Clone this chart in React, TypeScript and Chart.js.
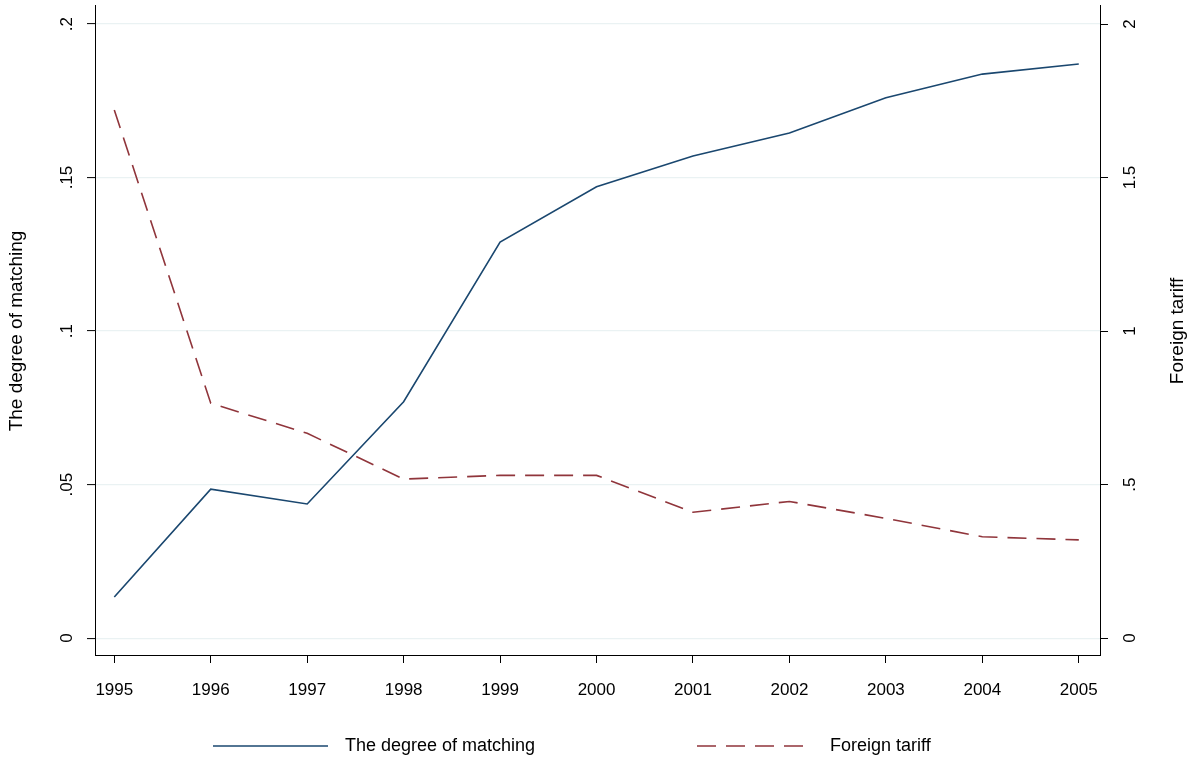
import React, { useEffect, useRef } from "react";
import { Chart, registerables } from "chart.js";

Chart.register(...registerables);

const years = [1995, 1996, 1997, 1998, 1999, 2000, 2001, 2002, 2003, 2004, 2005];
const matching = [0.0134, 0.0485, 0.0437, 0.077, 0.129, 0.147, 0.157, 0.1645, 0.176, 0.1837, 0.187];
const tariff = [1.72, 0.765, 0.667, 0.518, 0.53, 0.53, 0.41, 0.445, 0.39, 0.33, 0.32];
const leftTicks = [0, 0.05, 0.1, 0.15, 0.2];
const leftLabels = ["0", ".05", ".1", ".15", ".2"];
const rightTicks = [0, 0.5, 1, 1.5, 2];
const rightLabels = ["0", ".5", "1", "1.5", "2"];

const BLUE = "#1a476f";
const RED = "#90353b";
const FONT = "'Liberation Sans', Arial, sans-serif";
const DASH = [19, 10];

const labelsPlugin = {
  id: "stataLabels",
  afterDraw(chart: any) {
    const { ctx, scales } = chart;
    const x = scales.x, yl = scales.y, yr = scales.y2;
    ctx.save();
    ctx.fillStyle = "#000";
    ctx.font = `17px ${FONT}`;
    ctx.textAlign = "center";
    ctx.textBaseline = "middle";
    years.forEach((yr0) => ctx.fillText(String(yr0), x.getPixelForValue(yr0), 690));
    const rot = (tx: number, ty: number, s: string) => {
      ctx.save();
      ctx.translate(tx, ty);
      ctx.rotate(-Math.PI / 2);
      ctx.fillText(s, 0, 0);
      ctx.restore();
    };
    leftTicks.forEach((v, i) => rot(67, yl.getPixelForValue(v), leftLabels[i]));
    rightTicks.forEach((v, i) => rot(1130, yr.getPixelForValue(v), rightLabels[i]));
    ctx.font = `19px ${FONT}`;
    rot(17, 331, "The degree of matching");
    rot(1178, 331, "Foreign tariff");
    // legend
    ctx.lineWidth = 1.6;
    ctx.strokeStyle = BLUE;
    ctx.beginPath();
    ctx.moveTo(213, 746);
    ctx.lineTo(328, 746);
    ctx.stroke();
    ctx.strokeStyle = RED;
    ctx.setLineDash(DASH);
    ctx.beginPath();
    ctx.moveTo(697, 746);
    ctx.lineTo(812, 746);
    ctx.stroke();
    ctx.setLineDash([]);
    ctx.textAlign = "left";
    ctx.font = `18px ${FONT}`;
    ctx.fillText("The degree of matching", 345, 746);
    ctx.fillText("Foreign tariff", 830, 746);
    ctx.restore();
  },
};

export default function App() {
  const ref = useRef<HTMLCanvasElement>(null);
  useEffect(() => {
    document.body.style.margin = "0";
    if (!ref.current) return;
    const chart = new Chart(ref.current, {
      type: "line",
      data: {
        datasets: [
          {
            label: "The degree of matching",
            data: years.map((y, i) => ({ x: y, y: matching[i] })),
            borderColor: BLUE,
            borderWidth: 1.6,
            pointRadius: 0,
            yAxisID: "y",
          },
          {
            label: "Foreign tariff",
            data: years.map((y, i) => ({ x: y, y: tariff[i] })),
            borderColor: RED,
            borderWidth: 1.6,
            borderDash: DASH,
            pointRadius: 0,
            yAxisID: "y2",
          },
        ],
      },
      options: {
        animation: false,
        responsive: false,
        layout: { padding: { top: 5, left: 0, right: 0, bottom: 0 } },
        plugins: { legend: { display: false }, tooltip: { enabled: false } },
        scales: {
          x: {
            type: "linear",
            min: 1994.8,
            max: 2005.22,
            afterBuildTicks: (s: any) => { s.ticks = years.map((v) => ({ value: v })); },
            afterFit: (s: any) => { s.height = 109; },
            ticks: { display: false },
            grid: { drawOnChartArea: false, tickLength: 8, color: "#000", lineWidth: 1 },
            border: { color: "#000", width: 1 },
          },
          y: {
            position: "left",
            min: -0.0055,
            max: 0.2062,
            afterBuildTicks: (s: any) => { s.ticks = leftTicks.map((v) => ({ value: v })); },
            afterFit: (s: any) => { s.width = 95; },
            ticks: { display: false },
            grid: {
              color: "#eaf2f3",
              lineWidth: 1.2,
              tickLength: 8,
              tickColor: "#000",
              tickWidth: 1,
            },
            border: { color: "#000", width: 1 },
          },
          y2: {
            position: "right",
            min: -0.055,
            max: 2.062,
            afterBuildTicks: (s: any) => { s.ticks = rightTicks.map((v) => ({ value: v })); },
            afterFit: (s: any) => { s.width = 91; },
            ticks: { display: false },
            grid: { drawOnChartArea: false, tickLength: 8, color: "#000" },
            border: { color: "#000", width: 1 },
          },
        },
      },
      plugins: [labelsPlugin],
    });
    return () => chart.destroy();
  }, []);
  return (
    <div style={{ width: 1191, height: 764, background: "#fff" }}>
      <canvas ref={ref} width={1191} height={764} style={{ display: "block" }} />
    </div>
  );
}
